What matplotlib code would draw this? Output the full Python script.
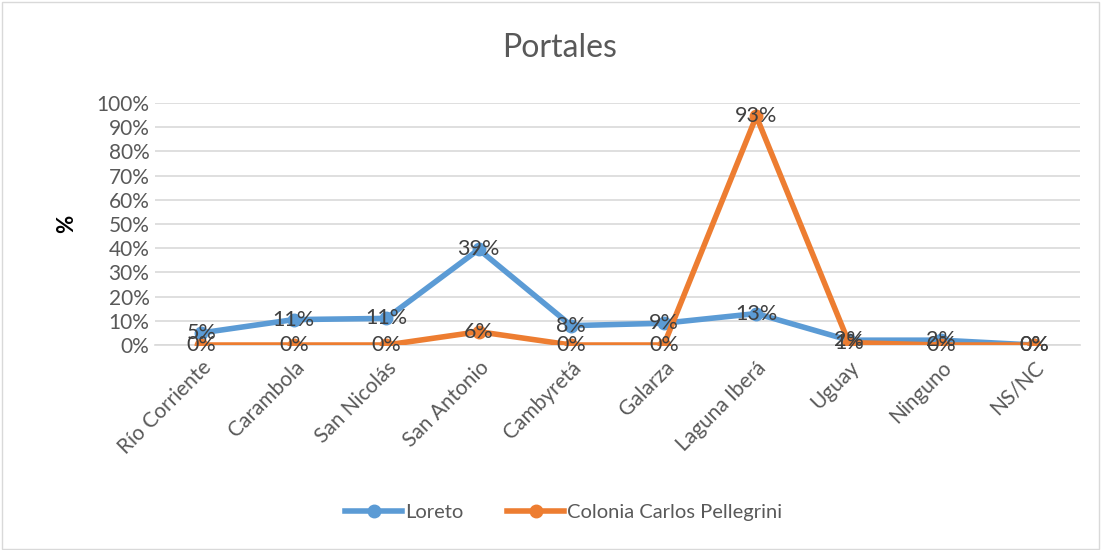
import matplotlib
matplotlib.use("Agg")
import matplotlib.pyplot as plt
from matplotlib.ticker import PercentFormatter, MultipleLocator

plt.rcParams['font.family'] = ['Lato', 'DejaVu Sans']

# Data
categories = ["Río Corriente", "Carambola", "San Nicolás", "San Antonio", "Cambyretá",
              "Galarza", "Laguna Iberá", "Uguay", "Ninguno", "NS/NC"]
loreto = [0.05, 0.105, 0.11, 0.395, 0.08, 0.09, 0.13, 0.02, 0.02, 0.0]
colonia = [0.0, 0.0, 0.0, 0.055, 0.0, 0.0, 0.945, 0.01, 0.0, 0.0]
loreto_labels = ["5%", "11%", "11%", "39%", "8%", "9%", "13%", "2%", "2%", "0%"]
colonia_labels = ["0%", "0%", "0%", "6%", "0%", "0%", "93%", "1%", "0%", "0%"]

blue = "#5B9BD5"
orange = "#ED7D31"
text_col = "#595959"

fig = plt.figure(figsize=(11.01, 5.5), dpi=100)
ax = fig.add_axes([0.1408, 0.3727, 0.8402, 0.44])

x = range(len(categories))
ax.plot(x, loreto, color=blue, lw=4, marker="o", ms=9, label="Loreto", zorder=3)
ax.plot(x, colonia, color=orange, lw=4, marker="o", ms=9,
        label="Colonia Carlos Pellegrini", zorder=3)

for i, (v, lab) in enumerate(zip(loreto, loreto_labels)):
    ax.text(i, v, lab, ha="center", va="center", fontsize=15.5, color="#404040", zorder=4)
for i, (v, lab) in enumerate(zip(colonia, colonia_labels)):
    ax.text(i, v, lab, ha="center", va="center", fontsize=15.5, color="#404040", zorder=4)

ax.set_xlim(-0.5, len(categories) - 0.5)
ax.set_ylim(0, 1.0)
ax.yaxis.set_major_locator(MultipleLocator(0.1))
ax.yaxis.set_major_formatter(PercentFormatter(1.0, decimals=0))
ax.grid(axis="y", color="#D9D9D9", lw=1.2)
ax.set_axisbelow(True)
for s in ["top", "right", "left"]:
    ax.spines[s].set_visible(False)
ax.spines["bottom"].set_color("#D9D9D9")
ax.spines["bottom"].set_linewidth(1.2)
ax.tick_params(length=0, colors=text_col, labelsize=15)
ax.set_xticks(list(x))
ax.set_xticklabels(categories, rotation=45, ha="right", rotation_mode="anchor")
ax.tick_params(axis="x", pad=9)
ax.tick_params(axis="y", pad=4)

ax.set_ylabel("%", fontsize=16, fontweight="bold", color="black", labelpad=14)
fig.text(0.508, 0.912, "Portales", ha="center", va="center", fontsize=23, color=text_col)

fig.legend(loc="center", bbox_to_anchor=(0.512, 0.069), ncol=2, frameon=False,
           fontsize=14.5, labelcolor=text_col, handlelength=2.8, columnspacing=2.2,
           handletextpad=0.15)

border = plt.Rectangle((0.002, 0.002), 0.996, 0.994, transform=fig.transFigure,
                       fill=False, edgecolor="#D9D9D9", lw=1)
fig.patches.append(border)

fig.savefig("out.png", dpi=100)
